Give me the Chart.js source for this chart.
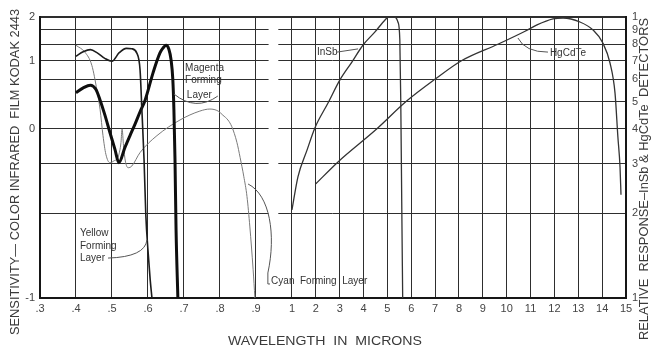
<!DOCTYPE html>
<html>
<head>
<meta charset="utf-8">
<script src="https://cdn.jsdelivr.net/npm/chart.js@4.4.1/dist/chart.umd.min.js"></script>
<style>
  html, body { margin: 0; padding: 0; background: #fff; }
  #wrap { width: 651px; height: 350px; }
</style>
</head>
<body>
<div id="wrap"><canvas id="spectrum"></canvas></div>
<script>
// film dye layers: [wavelength in microns, sensitivity on the left scale]
const yellowLayer = [
  [0.40, 1.10], [0.42, 1.20], [0.44, 1.25], [0.46, 1.17], [0.48, 1.05], [0.50, 0.99],
  [0.52, 1.18], [0.54, 1.28], [0.555, 1.27], [0.569, 1.17], [0.578, 0.86], [0.583, 0.28],
  [0.589, -0.18], [0.594, -0.51], [0.60, -0.72], [0.606, -0.89], [0.611, -1]
];
const magentaLayer = [
  [0.40, 0.53], [0.42, 0.60], [0.44, 0.64], [0.455, 0.58], [0.467, 0.42], [0.481, 0.19],
  [0.494, -0.02], [0.508, -0.12], [0.519, -0.20], [0.536, -0.11], [0.55, -0.04], [0.564, 0.07],
  [0.578, 0.25], [0.592, 0.42], [0.614, 0.82], [0.633, 1.17], [0.642, 1.29], [0.65, 1.35],
  [0.658, 1.26], [0.664, 1.02], [0.669, 0.72], [0.672, 0.28], [0.675, -0.18], [0.678, -0.60],
  [0.683, -1]
];
const cyanLayer = [
  [0.40, 1.35], [0.425, 1.19], [0.444, 0.93], [0.458, 0.57], [0.467, 0.28], [0.475, -0.04],
  [0.483, -0.15], [0.494, -0.20], [0.505, -0.19], [0.518, -0.16], [0.525, -0.08], [0.528, 0.00],
  [0.532, -0.10], [0.537, -0.19], [0.545, -0.23], [0.555, -0.22], [0.578, -0.14], [0.625, -0.04],
  [0.689, 0.13], [0.744, 0.26], [0.772, 0.29], [0.795, 0.26], [0.808, 0.20], [0.822, 0.13],
  [0.833, 0.03], [0.847, -0.08], [0.856, -0.17], [0.866, -0.28], [0.875, -0.40], [0.883, -0.58],
  [0.892, -0.83], [0.897, -1]
];

// detectors: [wavelength in microns, relative response on the right (log) scale]
const insbResponse = [
  [1.0, 0.206], [1.25, 0.27], [1.63, 0.336], [1.96, 0.403], [2.51, 0.494], [3.01, 0.597],
  [3.51, 0.691], [3.98, 0.795], [4.48, 0.885], [4.9, 0.976], [5.05, 1.0], [5.3, 1.0],
  [5.44, 0.96], [5.52, 0.83], [5.56, 0.5], [5.6, 0.22], [5.64, 0.1]
];
const hgcdteResponse = [
  [2.0, 0.255], [2.93, 0.305], [4.56, 0.40], [5.78, 0.50], [6.99, 0.60], [8.12, 0.70],
  [9.63, 0.80], [10.77, 0.89], [11.27, 0.937], [11.94, 0.984], [12.36, 0.992], [13.07, 0.96],
  [13.62, 0.899], [14.03, 0.808], [14.33, 0.686], [14.54, 0.536], [14.66, 0.374], [14.75, 0.292],
  [14.79, 0.233]
];

const wavelengthTicks = [0.3, 0.4, 0.5, 0.6, 0.7, 0.8, 0.9, 1, 2, 3, 4, 5, 6, 7, 8, 9, 10, 11, 12, 13, 14, 15];
const wavelengthLabels = ['.3', '.4', '.5', '.6', '.7', '.8', '.9', '1', '2', '3', '4', '5', '6', '7', '8', '9', '10', '11', '12', '13', '14', '15'];
const sensitivityTicks = [-1, 0, 1, 2];
const sensitivityLabels = ['-1', '0', '1', '2'];
const responseTicks = [0.1, 0.2, 0.3, 0.4, 0.5, 0.6, 0.7, 0.8, 0.9, 1];
const responseLabels = ['1', '2', '3', '4', '5', '6', '7', '8', '9', '1'];

// the wavelength and sensitivity axes are stretched piecewise: [value, fraction of axis]
const axisBreaks = {
  x: [[0.3, 0], [1, 0.43], [15, 1]],
  yL: [[-1, 0], [0, 0.602], [1, 0.845], [2, 1]]
};

class PiecewiseScale extends Chart.LinearScale {
  static id = 'piecewise';
  static defaults = {};

  toDecimal(v) {
    const b = axisBreaks[this.id];
    let i = 1;
    while (i < b.length - 1 && v > b[i][0]) i++;
    const [v0, d0] = b[i - 1], [v1, d1] = b[i];
    return d0 + (v - v0) / (v1 - v0) * (d1 - d0);
  }

  fromDecimal(d) {
    const b = axisBreaks[this.id];
    let i = 1;
    while (i < b.length - 1 && d > b[i][1]) i++;
    const [v0, d0] = b[i - 1], [v1, d1] = b[i];
    return v0 + (d - d0) / (d1 - d0) * (v1 - v0);
  }

  getPixelForValue(value) {
    if (value === null || isNaN(value)) return NaN;
    return this.getPixelForDecimal(this.toDecimal(value));
  }

  getValueForPixel(pixel) {
    return this.fromDecimal(this.getDecimalForPixel(pixel));
  }
}
Chart.register(PiecewiseScale);

const toPoints = arr => arr.map(([x, y]) => ({ x, y }));
const fixedTicks = vals => scale => { scale.ticks = vals.map(v => ({ value: v })); };

const gridColor = '#2e2e2e';
const borderColor = '#161616';
const tickFont = { family: 'Liberation Sans', size: 11 };
const textFont = '"Liberation Sans", Arial, sans-serif';

// white gap in the grid where the axis changes scale
const breakGap = {
  id: 'breakGap',
  beforeDatasetsDraw(chart) {
    const { ctx, chartArea, scales } = chart;
    const x0 = scales.x.getPixelForValue(0.935);
    const x1 = scales.x.getPixelForValue(0.962);
    ctx.save();
    ctx.fillStyle = '#fff';
    ctx.fillRect(x0, chartArea.top + 1.5, x1 - x0, chartArea.bottom - chartArea.top - 3);
    ctx.restore();
  }
};

function stretchText(ctx, text, x, y, width, rot) {
  ctx.save();
  ctx.translate(x, y);
  ctx.rotate(rot);
  const w = ctx.measureText(text).width;
  ctx.scale(width / w, 1);
  ctx.textAlign = 'center';
  ctx.textBaseline = 'middle';
  ctx.fillText(text, 0, 0);
  ctx.restore();
}

const labels = {
  id: 'labels',
  afterDraw(chart) {
    const { ctx, scales } = chart;
    const X = v => scales.x.getPixelForValue(v);
    const L = v => scales.yL.getPixelForValue(v);
    const R = v => scales.yR.getPixelForValue(v);

    ctx.save();
    // axis titles
    ctx.fillStyle = '#3a3a3a';
    ctx.font = '12px ' + textFont;
    stretchText(ctx, 'SENSITIVITY\u2014 COLOR INFRARED  FILM KODAK 2443', 16, 172, 326, -Math.PI / 2);
    stretchText(ctx, 'RELATIVE  RESPONSE\u2013InSb & HgCdTe  DETECTORS', 645, 179, 322, -Math.PI / 2);
    ctx.font = '13px ' + textFont;
    stretchText(ctx, 'WAVELENGTH  IN  MICRONS', 325, 341, 194, 0);

    // curve labels
    ctx.fillStyle = '#333';
    ctx.font = '10px ' + textFont;
    ctx.textAlign = 'left';
    ctx.textBaseline = 'middle';
    ctx.fillText('Magenta', X(0.703), L(0.89));
    ctx.fillText('Forming', X(0.703), L(0.716));
    ctx.fillText('Layer', X(0.708), L(0.495));
    ctx.fillText('Yellow', X(0.411), L(-0.616));
    ctx.fillText('Forming', X(0.411), L(-0.693));
    ctx.fillText('Layer', X(0.411), L(-0.764));
    ctx.fillText('Cyan  Forming  Layer', X(0.942), L(-0.9));
    ctx.fillText('InSb', X(2.05), R(0.75));
    ctx.fillText('HgCdTe', X(11.81), R(0.745));

    // leaders
    ctx.strokeStyle = '#555';
    ctx.lineWidth = 1;
    ctx.beginPath();
    ctx.moveTo(X(0.672), L(0.51));
    ctx.quadraticCurveTo(X(0.733), L(0.25), X(0.794), L(0.48));
    ctx.moveTo(X(0.489), L(-0.764));
    ctx.quadraticCurveTo(X(0.592), L(-0.757), X(0.597), L(-0.657));
    ctx.moveTo(X(0.939), L(-0.917));
    ctx.lineTo(X(0.933), L(-0.917));
    ctx.lineTo(X(0.933), L(-0.852));
    ctx.bezierCurveTo(X(0.956), L(-0.628), X(0.939), L(-0.391), X(0.878), L(-0.326));
    ctx.moveTo(X(2.89), R(0.75));
    ctx.lineTo(X(3.77), R(0.77));
    ctx.moveTo(X(11.73), R(0.75));
    ctx.quadraticCurveTo(X(10.77), R(0.75), X(10.47), R(0.842));
    ctx.stroke();
    ctx.restore();
  }
};

const lineStyle = { pointRadius: 0, fill: false, cubicInterpolationMode: 'monotone' };

new Chart(document.getElementById('spectrum'), {
  type: 'line',
  data: {
    datasets: [
      { ...lineStyle, label: 'Yellow Forming Layer', data: toPoints(yellowLayer), yAxisID: 'yL', borderColor: '#1c1c1c', borderWidth: 1.6 },
      { ...lineStyle, label: 'Magenta Forming Layer', data: toPoints(magentaLayer), yAxisID: 'yL', borderColor: '#0e0e0e', borderWidth: 3 },
      { ...lineStyle, label: 'Cyan Forming Layer', data: toPoints(cyanLayer), yAxisID: 'yL', borderColor: '#7a7a7a', borderWidth: 1 },
      { ...lineStyle, label: 'InSb', data: toPoints(insbResponse), yAxisID: 'yR', borderColor: '#333', borderWidth: 1.3 },
      { ...lineStyle, label: 'HgCdTe', data: toPoints(hgcdteResponse), yAxisID: 'yR', borderColor: '#333', borderWidth: 1.3 }
    ]
  },
  options: {
    responsive: true,
    maintainAspectRatio: false,
    animation: false,
    layout: { padding: { top: 17, left: 0, right: 0, bottom: 0 } },
    plugins: { legend: { display: false }, tooltip: { enabled: false } },
    scales: {
      x: {
        type: 'piecewise',
        position: 'bottom',
        min: 0.3,
        max: 15,
        afterBuildTicks: fixedTicks(wavelengthTicks),
        afterFit: s => { s.height = 52; },
        ticks: { callback: (v, i) => wavelengthLabels[i], font: tickFont, color: '#444', padding: 4, maxRotation: 0, autoSkip: false },
        grid: { color: gridColor, lineWidth: 1, drawTicks: false },
        border: { color: borderColor, width: 2 }
      },
      yL: {
        type: 'piecewise',
        position: 'left',
        min: -1,
        max: 2,
        afterBuildTicks: fixedTicks(sensitivityTicks),
        afterFit: s => { s.width = 40; },
        ticks: { callback: (v, i) => sensitivityLabels[i], font: tickFont, color: '#444', padding: 5, autoSkip: false },
        grid: { display: false, drawTicks: false },
        border: { color: borderColor, width: 2 }
      },
      yR: {
        type: 'logarithmic',
        position: 'right',
        min: 0.1,
        max: 1,
        afterBuildTicks: fixedTicks(responseTicks),
        afterFit: s => { s.width = 25; },
        ticks: { callback: (v, i) => responseLabels[i], font: tickFont, color: '#444', padding: 6, autoSkip: false },
        grid: { color: gridColor, lineWidth: c => (c.tick && c.tick.value === 1 ? 2 : 1), drawTicks: false },
        border: { color: borderColor, width: 2 }
      }
    }
  },
  plugins: [breakGap, labels]
});
</script>
</body>
</html>
